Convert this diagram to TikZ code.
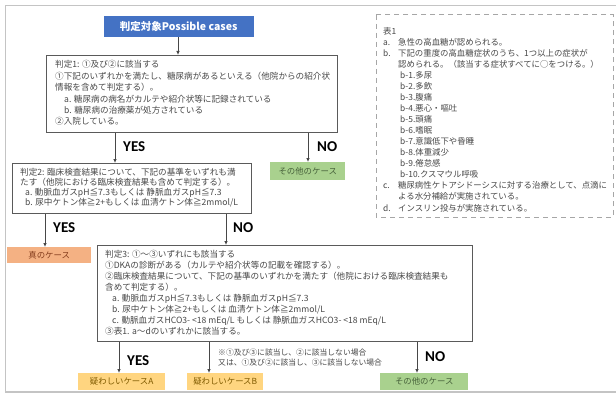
\documentclass[tikz,border=0pt]{standalone}
\usepackage{fontspec}
\setmainfont{Noto Sans CJK JP}
\newfontfamily\yesfont{Carlito}
\usetikzlibrary{arrows.meta}
\definecolor{frame}{HTML}{C4C4C4}
\definecolor{boxline}{HTML}{5A5A5A}
\definecolor{txtgray}{HTML}{484848}
\definecolor{bluebox}{HTML}{4472C4}
\definecolor{greenbox}{HTML}{A9D18E}
\definecolor{greentxt}{HTML}{46613A}
\definecolor{orangebox}{HTML}{F4B183}
\definecolor{orangetxt}{HTML}{843C1C}
\definecolor{yellowbox}{HTML}{FFD580}
\definecolor{yellowtxt}{HTML}{7F5A00}
\definecolor{dashline}{HTML}{A6A6A6}
\tikzset{
  box/.style={draw=boxline, line width=1.2pt, fill=white, inner sep=0pt, anchor=north west},
  txt/.style={align=left, inner sep=0pt, anchor=north west, text=txtgray, font=\fontsize{8.6}{11}\selectfont},
  result/.style={inner sep=0pt, anchor=north west, font=\fontsize{8.4}{10}\selectfont},
  arr/.style={draw=txtgray, line width=0.8pt, -{Latex[length=4pt,width=3.6pt]}},
  yn/.style={font=\yesfont\bfseries\fontsize{15}{15}\selectfont, text=black, inner sep=0pt}
}
\begin{document}
\begin{tikzpicture}[x=1pt,y=-1pt]
\useasboundingbox (0,0) rectangle (616,396);
\fill[white] (0,0) rectangle (616,396);
% outer frame
\draw[frame, line width=1.6pt] (5.5,5.5) rectangle (640,392);

% title
\node[box, draw=none, fill=bluebox, minimum width=150pt, minimum height=21pt] (title) at (103,15) {};
\node[text=white, font=\bfseries\fontsize{10.5}{12}\selectfont, inner sep=0pt] (titlet) at (title.center) {判定対象Possible cases};

% box 1
\node[box, minimum width=291pt, minimum height=77pt] (b1) at (46,55) {};
\node[txt, font=\fontsize{8.6}{11.4}\selectfont] (b1t) at (55,60.5) {判定1: ①及び②に該当する\\
①下記のいずれかを満たし、糖尿病があるといえる（他院からの紹介状\\
情報を含めて判定する）。\\
\hspace*{9pt}a. 糖尿病の病名がカルテや紹介状等に記録されている\\
\hspace*{9pt}b. 糖尿病の治療薬が処方されている\\
②入院している。};

% box 2
\node[box, minimum width=239pt, minimum height=50pt] (b2) at (12,163) {};
\node[txt, font=\fontsize{8.6}{10}\selectfont] (b2t) at (20,168.5) {判定2: 臨床検査結果について、下記の基準をいずれも満\\
たす（他院における臨床検査結果も含めて判定する）。\\
\hspace*{5pt}a. 動脈血ガスpH≦7.3もしくは 静脈血ガスpH≦7.3\\
\hspace*{5pt}b. 尿中ケトン体≧2+もしくは 血清ケトン体≧2mmol/L};

% green top
\node[result, fill=greenbox, minimum width=75pt, minimum height=18pt] (g1) at (270,162) {};
\node[text=greentxt, font=\fontsize{8.4}{10}\selectfont, inner sep=0pt] (g1t) at (g1.center) {その他のケース};

% orange
\node[result, fill=orangebox, minimum width=84pt, minimum height=16pt] (o1) at (7,247) {};
\node[text=orangetxt, font=\fontsize{8.4}{10}\selectfont, inner sep=0pt] (o1t) at (o1.center) {真のケース};

% box 3
\node[box, minimum width=375pt, minimum height=96pt] (b3) at (97,245) {};
\node[txt, font=\fontsize{8.6}{11}\selectfont] (b3t) at (105,250.5) {判定3: ①〜③いずれにも該当する\\
①DKAの診断がある（カルテや紹介状等の記載を確認する）。\\
②臨床検査結果について、下記の基準のいずれかを満たす（他院における臨床検査結果も\\
含めて判定する）。\\
\hspace*{7pt}a. 動脈血ガスpH≦7.3もしくは 静脈血ガスpH≦7.3\\
\hspace*{7pt}b. 尿中ケトン体≧2+もしくは 血清ケトン体≧2mmol/L\\
\hspace*{7pt}c. 動脈血ガスHCO3- <18 mEq/L もしくは 静脈血ガスHCO3- <18 mEq/L\\
③表1. a〜dのいずれかに該当する。};

% bottom results
\node[result, fill=yellowbox, minimum width=87pt, minimum height=17pt] (ya) at (78,373) {};
\node[text=yellowtxt, font=\fontsize{8.4}{10}\selectfont, inner sep=0pt] (yat) at (ya.center) {疑わしいケースA};
\node[result, fill=yellowbox, minimum width=76pt, minimum height=17pt] (yb) at (187,373) {};
\node[text=yellowtxt, font=\fontsize{8.4}{10}\selectfont, inner sep=0pt] (ybt) at (yb.center) {疑わしいケースB};
\node[result, fill=greenbox, minimum width=88pt, minimum height=17pt] (g2) at (380,373) {};
\node[text=greentxt, font=\fontsize{8.4}{10}\selectfont, inner sep=0pt] (g2t) at (g2.center) {その他のケース};

% note
\node[txt, font=\fontsize{7.8}{10}\selectfont] (note) at (218,348.5) {※①及び③に該当し、②に該当しない場合\\
又は、①及び②に該当し、③に該当しない場合};

% table 1
\draw[dashline, line width=1pt, dash pattern=on 5pt off 4pt] (376,15) rectangle (613,217);
\node[txt, font=\fontsize{8.4}{11.06}\selectfont] (tab) at (383,26.8) {表1\\
\makebox[15pt][l]{a.}急性の高血糖が認められる。\\
\makebox[15pt][l]{b.}下記の重度の高血糖症状のうち、1つ以上の症状が\\
\hspace*{15pt}認められる。（該当する症状すべてに○をつける。）\\
\hspace*{17pt}b-1.多尿\\
\hspace*{17pt}b-2.多飲\\
\hspace*{17pt}b-3.腹痛\\
\hspace*{17pt}b-4.悪心・嘔吐\\
\hspace*{17pt}b-5.頭痛\\
\hspace*{17pt}b-6.嗜眠\\
\hspace*{17pt}b-7.意識低下や昏睡\\
\hspace*{17pt}b-8.体重減少\\
\hspace*{17pt}b-9.倦怠感\\
\hspace*{17pt}b-10.クスマウル呼吸\\
\makebox[15pt][l]{c.}糖尿病性ケトアシドーシスに対する治療として、点滴に\\
\hspace*{15pt}よる水分補給が実施されている。\\
\makebox[15pt][l]{d.}インスリン投与が実施されている。};

% arrow x positions
\coordinate (xa) at (178,0);
\coordinate (xb) at (115,0);
\coordinate (xc) at (308,0);
\coordinate (xd) at (45,0);
\coordinate (xe) at (226,0);
\coordinate (xf) at (119,0);
\coordinate (xg) at (209,0);
\coordinate (xh) at (417,0);

\draw[arr] (title.south -| xa) -- (b1.north -| xa);
\draw[arr] (b1.south -| xb) -- (b2.north -| xb);
\draw[arr] (b1.south -| xc) -- (g1.north -| xc);
\draw[arr] (b2.south -| xd) -- (o1.north -| xd);
\draw[arr] (b2.south -| xe) -- (b3.north -| xe);
\draw[arr] (b3.south -| xf) -- (ya.north -| xf);
\draw[arr] (b3.south -| xg) -- (yb.north -| xg);
\draw[arr] (b3.south -| xh) -- (g2.north -| xh);

% YES / NO labels
\node[yn, anchor=west] (yes1) at (123,147) {YES};
\node[yn, anchor=west] (no1) at (317,147) {NO};
\node[yn, anchor=west] (yes2) at (53,228) {YES};
\node[yn, anchor=west] (no2) at (233,228) {NO};
\node[yn, anchor=west] (yes3) at (127,361) {YES};
\node[yn, anchor=west] (no3) at (425,357) {NO};
\end{tikzpicture}
\end{document}
